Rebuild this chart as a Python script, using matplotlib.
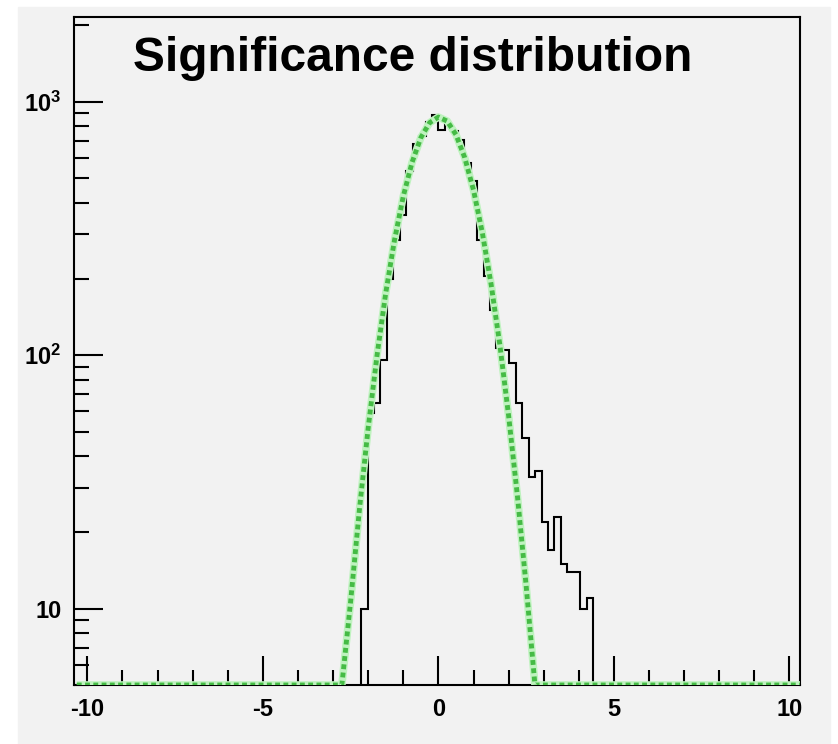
import numpy as np
import matplotlib
matplotlib.use("Agg")
import matplotlib.pyplot as plt
from matplotlib.patches import Rectangle
from matplotlib.ticker import FixedLocator, FuncFormatter, LogLocator, NullFormatter

# histogram: bin width and counts (bins start at -2.2)
bin_width = 0.1836
first_bin = -12
counts = [10, 59, 65, 96, 199, 286, 358, 531, 682, 730, 834, 886,
          776, 815, 768, 705, 573, 485, 286, 205, 151, 107, 105, 93,
          65, 47, 33, 35, 22, 17, 23, 15, 14, 14, 10, 11]

# gaussian fit curve
fit_x = [-10.3, -2.75, -2.5, -2.25, -2.0, -1.75, -1.5, -1.25, -1.0, -0.75, -0.5, -0.25,
         0.0, 0.25, 0.5, 0.75, 1.0, 1.25, 1.5, 1.75, 2.0, 2.25, 2.5, 2.75, 10.3]
fit_y = [5, 5, 10.7, 24.6, 51.7, 99.5, 176, 285, 424, 577, 722, 827,
         870, 839, 742, 602, 448, 305, 191, 110, 57.7, 27.9, 12.3, 5, 5]

x_major = [-10, -5, 0, 5, 10]
x_minor = list(range(-10, 11))

plt.rcParams['font.family'] = ['Liberation Sans', 'DejaVu Sans']
plt.rcParams['mathtext.fontset'] = 'custom'
plt.rcParams['mathtext.rm'] = 'Liberation Sans:bold'
plt.rcParams['mathtext.bf'] = 'Liberation Sans:bold'

W, H = 838, 744
bg = '#f2f2f2'
fig = plt.figure(figsize=(W / 100, H / 100), dpi=100, facecolor='white')
fig.patches.append(Rectangle((18 / W, 0), (830 - 18) / W, 1 - 7 / H,
                             transform=fig.transFigure, color=bg, zorder=-10))

ax = fig.add_axes([74 / W, 1 - 685 / H, (800 - 74) / W, (685 - 17) / H])
ax.set_facecolor(bg)

edges = (np.arange(len(counts) + 1) + first_bin) * bin_width
ax.stairs(counts, edges, baseline=1, color='black', lw=1.5, zorder=3)

ax.plot(fit_x, fit_y, color='#bff2bf', lw=5.5, solid_capstyle='butt', zorder=4)
ax.plot(fit_x, fit_y, color='#45bb45', lw=3.5, dashes=(1.0, 0.7), zorder=5)

ax.set_yscale('log')
ax.set_xlim(-10.38, 10.3)
ax.set_ylim(5, 2160)

ax.xaxis.set_major_locator(FixedLocator(x_major))
ax.xaxis.set_minor_locator(FixedLocator(x_minor))
ax.yaxis.set_major_locator(LogLocator(base=10))
ax.yaxis.set_minor_locator(LogLocator(base=10, subs=np.arange(2, 10)))
ax.yaxis.set_minor_formatter(NullFormatter())


def ylab(v, pos):
    e = int(round(np.log10(v)))
    if e == 1:
        return '10'
    return r'$\mathbf{10^{%d}}$' % e


ax.yaxis.set_major_formatter(FuncFormatter(ylab))
ax.xaxis.set_major_formatter(FuncFormatter(lambda v, p: '%d' % v))

ax.tick_params(which='both', direction='in', top=False, right=False, colors='black')
ax.tick_params(which='major', length=21, width=1.5, pad=9, labelsize=17)
ax.tick_params(which='minor', length=10.5, width=1.5)
for lab in ax.get_xticklabels() + ax.get_yticklabels():
    lab.set_fontweight('bold')
for s in ax.spines.values():
    s.set_linewidth(1.5)

fig.text(413 / W, 1 - 71 / H, 'Significance distribution', ha='center', va='baseline',
         fontsize=34.5, fontweight='bold')

fig.savefig('out.png', dpi=100, facecolor=fig.get_facecolor())
